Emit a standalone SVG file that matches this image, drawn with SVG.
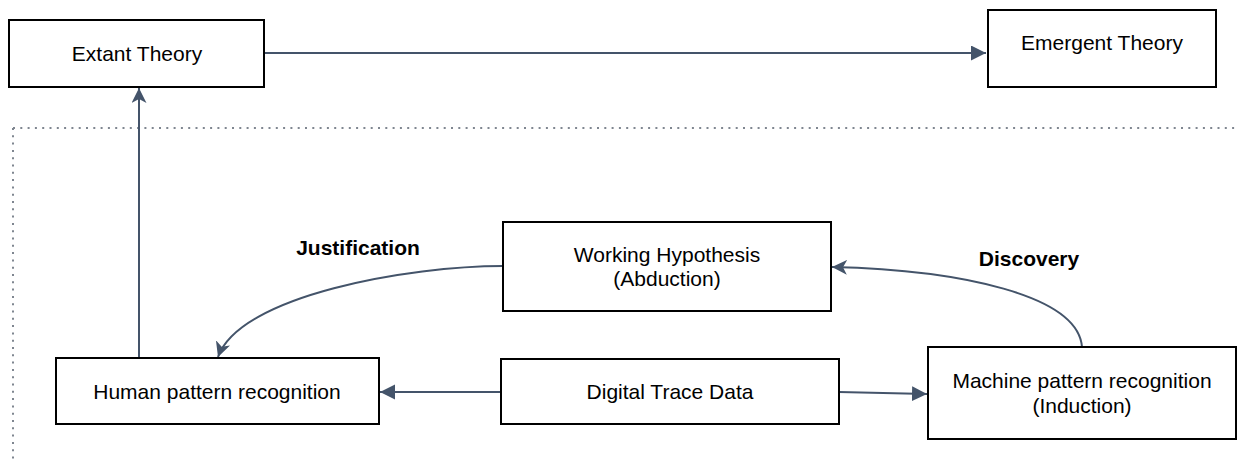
<svg xmlns="http://www.w3.org/2000/svg" width="1237" height="463" viewBox="0 0 1237 463">
  <style>
    .box { fill: #ffffff; stroke: #000000; stroke-width: 2; }
    .lbl { font-family: "Liberation Sans", Arial, sans-serif; font-size: 21px; fill: #000000; text-anchor: middle; }
    .bold { font-weight: bold; }
    .conn { fill: none; stroke: #44546A; stroke-width: 2; }
    .dots { fill: none; stroke: #7F8690; stroke-width: 2; stroke-dasharray: 2 5.3; }
  </style>
  <defs>
    <marker id="tri" markerUnits="userSpaceOnUse" markerWidth="16" markerHeight="16" refX="15" refY="7.5" orient="auto">
      <path d="M0,0 L15,7.5 L0,15 z" fill="#44546A"/>
    </marker>
    <marker id="stealth" markerUnits="userSpaceOnUse" markerWidth="16" markerHeight="16" refX="15" refY="7.5" orient="auto">
      <path d="M0,0 L15,7.5 L0,15 L4,7.5 z" fill="#44546A"/>
    </marker>
  </defs>
  <rect width="1237" height="463" fill="#ffffff"/>

  <g id="boundary">
    <path class="dots" d="M13,128 L1237,128"/>
    <path class="dots" d="M13,128 L13,463"/>
  </g>

  <g id="connectors">
    <path class="conn" d="M264,53 L986,53" marker-end="url(#tri)"/>
    <path class="conn" d="M139,358 L139,88" marker-end="url(#stealth)"/>
    <path class="conn" d="M501,392 L380,392" marker-end="url(#tri)"/>
    <path class="conn" d="M839,392 L927,394" marker-end="url(#tri)"/>
    <path class="conn" d="M503,266 C410,266 240,295 218,357" marker-end="url(#stealth)"/>
    <path class="conn" d="M1082,347 C1078,295 960,270 832,267" marker-end="url(#stealth)"/>
    <text class="lbl bold" x="358" y="255">Justification</text>
    <text class="lbl bold" x="1029" y="266">Discovery</text>
  </g>

  <g id="extant-theory">
    <rect class="box" x="9" y="20" width="255" height="67"/>
    <text class="lbl" x="137" y="61">Extant Theory</text>
  </g>

  <g id="emergent-theory">
    <rect class="box" x="988" y="10" width="228" height="77"/>
    <text class="lbl" x="1102" y="50">Emergent Theory</text>
  </g>

  <g id="working-hypothesis">
    <rect class="box" x="503" y="222" width="328" height="89"/>
    <text class="lbl" x="667" y="262">Working Hypothesis</text>
    <text class="lbl" x="667" y="286">(Abduction)</text>
  </g>

  <g id="human-pattern-recognition">
    <rect class="box" x="56" y="358" width="323" height="66"/>
    <text class="lbl" x="217" y="399">Human pattern recognition</text>
  </g>

  <g id="digital-trace-data">
    <rect class="box" x="501" y="359" width="338" height="65"/>
    <text class="lbl" x="670" y="399">Digital Trace Data</text>
  </g>

  <g id="machine-pattern-recognition">
    <rect class="box" x="928" y="347" width="308" height="92"/>
    <text class="lbl" x="1082" y="388">Machine pattern recognition</text>
    <text class="lbl" x="1082" y="413">(Induction)</text>
  </g>
</svg>
